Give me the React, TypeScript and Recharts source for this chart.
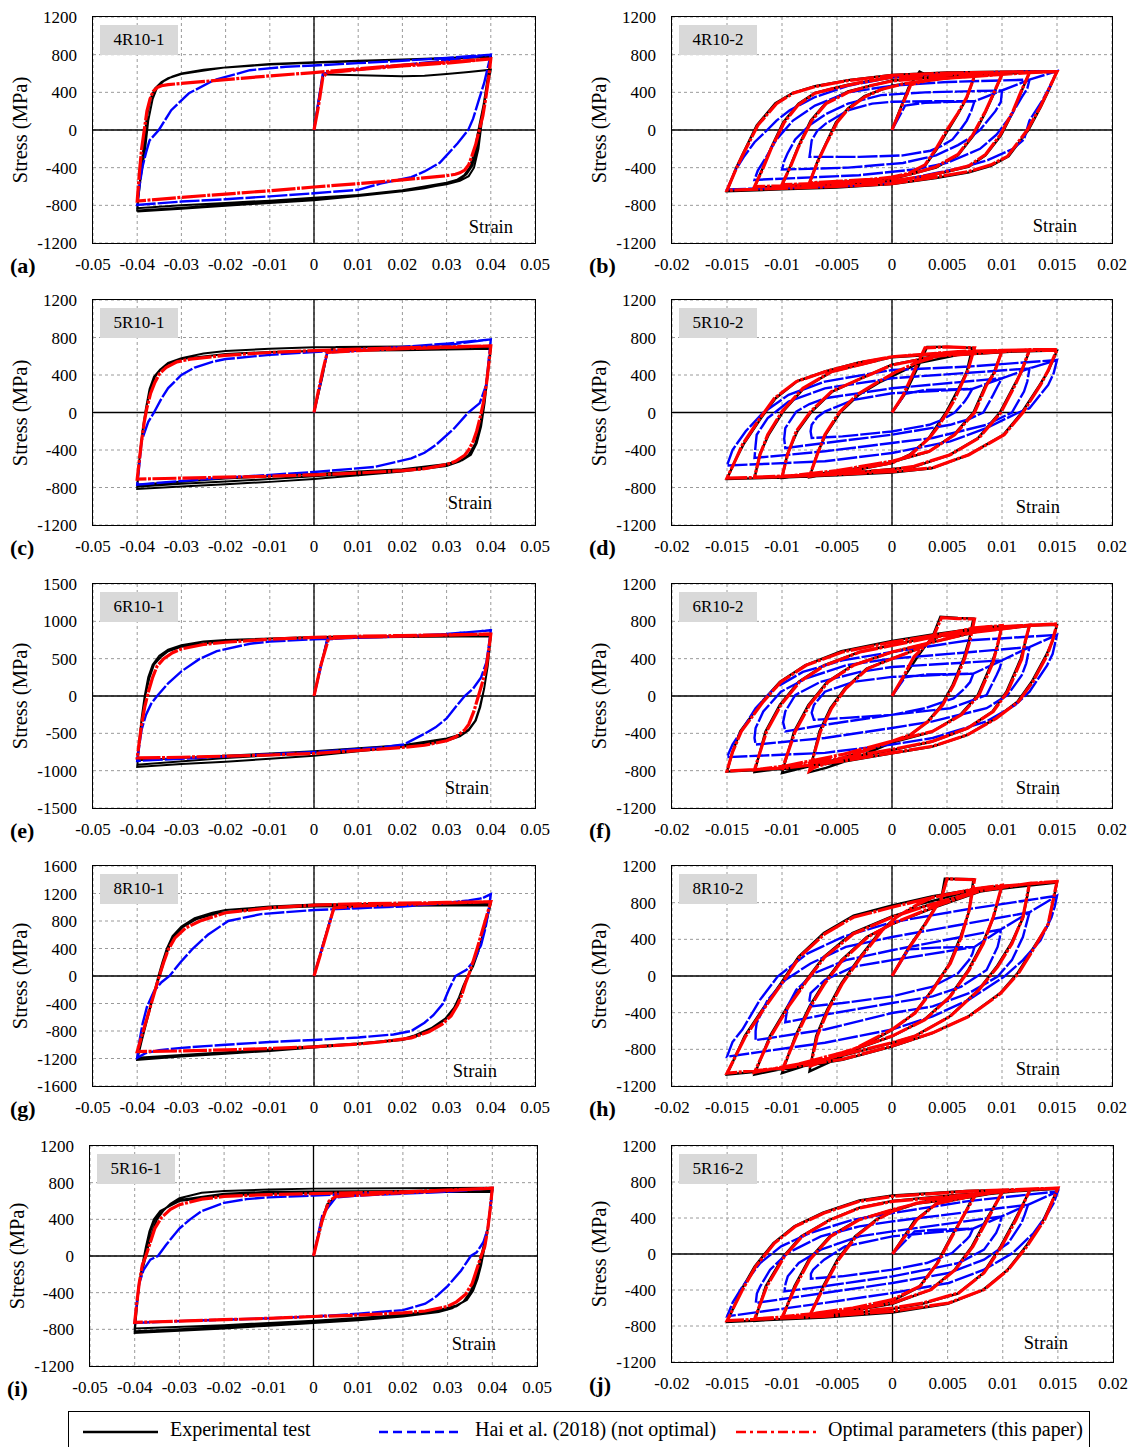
import { LineChart, Line, XAxis, YAxis, CartesianGrid, ReferenceLine } from "recharts";

type Pt = [number, number];

const FONT = '"Liberation Serif", "Times New Roman", Times, serif';

// axis ticks
const X_WIDE = [-0.05, -0.04, -0.03, -0.02, -0.01, 0, 0.01, 0.02, 0.03, 0.04, 0.05];
const X_NARROW = [-0.02, -0.015, -0.01, -0.005, 0, 0.005, 0.01, 0.015, 0.02];
const Y_1200 = [-1200, -800, -400, 0, 400, 800, 1200];
const Y_1500 = [-1500, -1000, -500, 0, 500, 1000, 1500];
const Y_1600 = [-1600, -1200, -800, -400, 0, 400, 800, 1200, 1600];

const SERIES_NAMES = ["Experimental test", "Hai et al. (2018) (not optimal)", "Optimal parameters (this paper)"];

// ---------- (a) 4R10-1 ----------
const A_EXP: Pt[] = [
  [0, 0], [0.0015, 450], [0.0022, 600], [0.003, 590], [0.008, 585], [0.015, 575], [0.02, 570], [0.025, 575], [0.03, 595], [0.035, 615], [0.04, 640],
  [0.0385, 300], [0.0372, 0], [0.0362, -250], [0.0352, -400], [0.034, -480], [0.032, -540], [0.03, -570], [0.025, -620], [0.02, -650], [0.01, -690], [0, -720], [-0.01, -750], [-0.02, -775], [-0.03, -800], [-0.04, -830],
  [-0.0392, -500], [-0.0382, -200], [-0.0375, 100], [-0.0365, 330], [-0.0355, 450], [-0.034, 520], [-0.032, 570], [-0.03, 600], [-0.025, 640], [-0.02, 665], [-0.01, 695], [0, 715], [0.01, 730], [0.02, 745], [0.03, 760], [0.04, 775],
  [0.0388, 400], [0.0378, 100], [0.0368, -200], [0.0358, -380], [0.0345, -470], [0.033, -520], [0.03, -560], [0.02, -640], [0.01, -690], [0, -735], [-0.01, -765], [-0.02, -795], [-0.03, -825], [-0.04, -855],
  [-0.0393, -500], [-0.0385, -150], [-0.0378, 150], [-0.037, 330], [-0.036, 440], [-0.0345, 510], [-0.033, 550], [-0.03, 595], [-0.02, 665], [-0.01, 700], [0, 720], [0.01, 735], [0.02, 750], [0.03, 765], [0.04, 785],
  [0.0389, 400], [0.038, 100], [0.0372, -200], [0.0362, -400], [0.035, -490], [0.033, -540], [0.03, -575], [0.02, -650], [0.01, -700], [0, -745], [-0.01, -775], [-0.02, -805], [-0.03, -835], [-0.04, -865],
];
const A_HAI: Pt[] = [
  [0, 0], [0.0015, 450], [0.002, 600], [0.005, 620], [0.01, 640], [0.02, 690], [0.03, 740], [0.04, 800],
  [0.0385, 500], [0.0373, 320], [0.036, 120], [0.0349, 0], [0.0325, -140], [0.03, -270], [0.0284, -350], [0.025, -440], [0.022, -500], [0.015, -570], [0.01, -635], [0, -672], [-0.01, -705], [-0.02, -735], [-0.03, -760], [-0.04, -795],
  [-0.0395, -600], [-0.0388, -390], [-0.038, -240], [-0.0372, -110], [-0.0351, 0], [-0.0323, 210], [-0.0283, 390], [-0.0226, 530], [-0.0145, 635], [-0.0064, 672], [0, 685], [0.01, 710], [0.02, 735], [0.03, 765], [0.04, 800],
];
const A_OPT: Pt[] = [
  [0, 0], [0.001, 250], [0.002, 560], [0.003, 610], [0.01, 640], [0.02, 680], [0.03, 710], [0.04, 755],
  [0.0395, 550], [0.0388, 320], [0.0382, 150], [0.0374, 0], [0.0366, -150], [0.0357, -280], [0.035, -370], [0.0341, -425], [0.033, -455], [0.032, -470], [0.03, -485], [0.02, -530], [0.01, -570], [0, -605], [-0.01, -645], [-0.02, -680], [-0.03, -715], [-0.04, -755],
  [-0.0395, -450], [-0.039, -200], [-0.0384, 0], [-0.0378, 200], [-0.0371, 330], [-0.0364, 410], [-0.0355, 450], [-0.0345, 470], [-0.033, 482], [-0.03, 495], [-0.02, 535], [-0.01, 575], [0, 610], [0.01, 650], [0.02, 690], [0.03, 720], [0.04, 755],
];

// ---------- (c) 5R10-1 ----------
const C_EXP: Pt[] = [
  [0, 0], [0.002, 400], [0.003, 650], [0.005, 700], [0.02, 705], [0.04, 700],
  [0.0392, 400], [0.0384, 100], [0.0375, -150], [0.0365, -330], [0.035, -450], [0.033, -520], [0.03, -570], [0.02, -630], [0.01, -670], [0, -710], [-0.01, -740], [-0.02, -765], [-0.03, -790], [-0.04, -815],
  [-0.0395, -500], [-0.0388, -200], [-0.038, 50], [-0.037, 250], [-0.036, 380], [-0.0345, 470], [-0.033, 530], [-0.03, 580], [-0.025, 630], [-0.02, 655], [-0.01, 680], [0, 695], [0.02, 700], [0.04, 690],
  [0.0393, 400], [0.0386, 100], [0.0378, -150], [0.0368, -330], [0.0355, -450], [0.0335, -510], [0.03, -560], [0.02, -620], [0.01, -650], [0, -680], [-0.01, -710], [-0.02, -735], [-0.03, -760], [-0.04, -790],
  [-0.0395, -500], [-0.0388, -200], [-0.038, 50], [-0.0372, 250], [-0.0362, 380], [-0.0348, 460], [-0.033, 520], [-0.03, 570], [-0.02, 625], [-0.01, 645], [0, 655], [0.02, 665], [0.04, 680],
  [0.0393, 400], [0.0386, 100], [0.0378, -150], [0.0368, -330], [0.0355, -450], [0.0335, -510], [0.03, -550], [0.02, -605], [0.01, -630], [0, -655], [-0.02, -705], [-0.04, -770],
];
const C_HAI: Pt[] = [
  [0, 0], [0.003, 640], [0.01, 660], [0.02, 690], [0.03, 720], [0.04, 780],
  [0.0395, 550], [0.039, 300], [0.0375, 100], [0.0349, 0], [0.0317, -170], [0.0276, -345], [0.025, -430], [0.022, -490], [0.0138, -580], [0, -635], [-0.01, -665], [-0.02, -695], [-0.03, -730], [-0.04, -770],
  [-0.0395, -550], [-0.039, -300], [-0.0375, -100], [-0.0362, 0], [-0.0345, 150], [-0.033, 260], [-0.03, 400], [-0.027, 480], [-0.023, 540], [-0.02, 570], [-0.01, 615], [0, 645], [0.01, 670], [0.02, 700], [0.03, 735], [0.04, 780],
];
const C_OPT: Pt[] = [
  [0, 0], [0.001, 230], [0.002, 450], [0.003, 640], [0.01, 660], [0.02, 680], [0.04, 710],
  [0.0395, 500], [0.039, 300], [0.0383, 100], [0.0376, -50], [0.0368, -200], [0.036, -310], [0.035, -400], [0.034, -460], [0.032, -520], [0.03, -555], [0.025, -600], [0.02, -620], [0.01, -645], [0, -665], [-0.01, -680], [-0.02, -690], [-0.03, -700], [-0.04, -710],
  [-0.0395, -500], [-0.039, -300], [-0.0384, -100], [-0.0378, 50], [-0.037, 200], [-0.036, 320], [-0.035, 410], [-0.0335, 480], [-0.031, 540], [-0.028, 570], [-0.02, 610], [-0.01, 640], [0, 660], [0.01, 675], [0.02, 690], [0.03, 700], [0.04, 710],
];

// ---------- (e) 6R10-1 ----------
const E_EXP: Pt[] = [
  [0, 0], [0.0015, 400], [0.003, 760], [0.005, 780], [0.02, 790], [0.04, 800],
  [0.0393, 400], [0.0385, 100], [0.0375, -150], [0.0365, -330], [0.035, -460], [0.033, -540], [0.03, -600], [0.025, -650], [0.02, -680], [0.01, -740], [0, -800], [-0.01, -840], [-0.02, -880], [-0.03, -910], [-0.04, -950],
  [-0.0395, -600], [-0.039, -300], [-0.0383, 0], [-0.0375, 250], [-0.0365, 420], [-0.035, 540], [-0.033, 620], [-0.03, 680], [-0.025, 730], [-0.02, 750], [-0.01, 770], [0, 785], [0.02, 790], [0.04, 800],
  [0.0393, 400], [0.0385, 100], [0.0375, -150], [0.0365, -330], [0.035, -450], [0.033, -520], [0.03, -570], [0.02, -660], [0.01, -700], [0, -740], [-0.01, -770], [-0.02, -800], [-0.03, -830], [-0.04, -860],
  [-0.0395, -600], [-0.039, -300], [-0.0382, 0], [-0.0372, 250], [-0.0362, 420], [-0.0345, 530], [-0.033, 600], [-0.03, 660], [-0.02, 740], [-0.01, 770], [0, 790], [0.02, 800], [0.04, 810],
  [0.0393, 400], [0.0385, 100], [0.0376, -150], [0.0366, -330], [0.035, -460], [0.033, -530], [0.03, -580], [0.02, -670], [0.01, -720], [0, -760], [-0.02, -830], [-0.04, -920],
];
const E_HAI: Pt[] = [
  [0, 0], [0.003, 760], [0.01, 780], [0.02, 800], [0.03, 830], [0.04, 880],
  [0.0395, 650], [0.039, 450], [0.0378, 250], [0.036, 100], [0.0341, 0], [0.032, -150], [0.03, -300], [0.0275, -420], [0.0252, -500], [0.0203, -650], [0.015, -690], [0.01, -710], [0, -750], [-0.01, -780], [-0.02, -810], [-0.03, -840], [-0.04, -870],
  [-0.0395, -650], [-0.039, -450], [-0.038, -250], [-0.0368, -100], [-0.0355, 0], [-0.033, 170], [-0.03, 330], [-0.0258, 500], [-0.022, 600], [-0.0145, 700], [-0.01, 730], [0, 760], [0.01, 780], [0.02, 800], [0.03, 830], [0.04, 880],
];
const E_OPT: Pt[] = [
  [0, 0], [0.0015, 400], [0.0033, 770], [0.01, 790], [0.02, 800], [0.04, 830],
  [0.0395, 600], [0.039, 400], [0.0382, 200], [0.0372, 0], [0.0362, -200], [0.035, -380], [0.034, -460], [0.032, -550], [0.03, -600], [0.025, -660], [0.02, -690], [0.01, -730], [0, -770], [-0.01, -790], [-0.02, -805], [-0.03, -820], [-0.04, -830],
  [-0.0395, -600], [-0.039, -380], [-0.0383, -150], [-0.0375, 50], [-0.0365, 250], [-0.0355, 400], [-0.034, 500], [-0.032, 580], [-0.03, 630], [-0.025, 690], [-0.02, 720], [-0.01, 760], [0, 785], [0.01, 800], [0.02, 810], [0.03, 820], [0.04, 830],
];

// ---------- (g) 8R10-1 ----------
const G_EXP: Pt[] = [
  [0, 0], [0.002, 450], [0.0045, 1000], [0.006, 1020], [0.02, 1030], [0.04, 1050],
  [0.039, 800], [0.038, 560], [0.037, 330], [0.036, 150], [0.035, 20], [0.034, -120], [0.033, -300], [0.032, -450], [0.03, -620], [0.027, -760], [0.023, -880], [0.02, -930], [0.01, -990], [0, -1040], [-0.01, -1090], [-0.02, -1130], [-0.03, -1170], [-0.04, -1220],
  [-0.039, -950], [-0.038, -700], [-0.037, -450], [-0.036, -200], [-0.0352, 0], [-0.0343, 200], [-0.0333, 400], [-0.032, 580], [-0.03, 720], [-0.027, 840], [-0.023, 920], [-0.02, 960], [-0.01, 1010], [0, 1040], [0.02, 1050], [0.04, 1060],
  [0.039, 790], [0.038, 550], [0.037, 320], [0.036, 140], [0.0348, 0], [0.0338, -140], [0.0328, -310], [0.0317, -460], [0.0297, -620], [0.0265, -760], [0.0225, -870], [0.02, -920], [0.01, -980], [0, -1020], [-0.01, -1070], [-0.02, -1110], [-0.03, -1150], [-0.04, -1190],
  [-0.039, -930], [-0.038, -680], [-0.037, -430], [-0.036, -190], [-0.0349, 0], [-0.034, 200], [-0.033, 390], [-0.0317, 570], [-0.0297, 710], [-0.0265, 830], [-0.022, 910], [-0.01, 990], [0, 1010], [0.02, 1020], [0.04, 1030],
];
const G_HAI: Pt[] = [
  [0, 0], [0.002, 450], [0.0045, 980], [0.01, 990], [0.02, 1010], [0.03, 1060], [0.035, 1100], [0.038, 1130], [0.04, 1190],
  [0.0395, 950], [0.0388, 700], [0.0378, 450], [0.0362, 220], [0.0345, 90], [0.032, 0], [0.0305, -200], [0.0292, -400], [0.027, -570], [0.025, -680], [0.022, -800], [0.018, -850], [0.01, -895], [0, -930], [-0.01, -960], [-0.02, -1000], [-0.03, -1045], [-0.035, -1080], [-0.038, -1120], [-0.04, -1190],
  [-0.0395, -950], [-0.0388, -700], [-0.0378, -450], [-0.0362, -220], [-0.0345, -90], [-0.0327, 0], [-0.0302, 200], [-0.0274, 400], [-0.024, 600], [-0.0194, 800], [-0.012, 900], [0, 960], [0.01, 985], [0.02, 1020], [0.03, 1060], [0.035, 1100], [0.038, 1130], [0.04, 1190],
];
const G_OPT: Pt[] = [
  [0, 0], [0.002, 430], [0.0045, 990], [0.01, 1020], [0.02, 1040], [0.04, 1080],
  [0.039, 860], [0.038, 640], [0.037, 420], [0.036, 210], [0.0352, 50], [0.0343, -100], [0.0334, -280], [0.0325, -420], [0.031, -580], [0.029, -700], [0.026, -810], [0.022, -900], [0.015, -960], [0.01, -990], [0, -1030], [-0.01, -1055], [-0.02, -1075], [-0.03, -1090], [-0.04, -1100],
  [-0.039, -880], [-0.038, -660], [-0.037, -440], [-0.036, -220], [-0.035, 0], [-0.034, 200], [-0.033, 380], [-0.0315, 550], [-0.029, 700], [-0.0258, 800], [-0.02, 920], [-0.01, 990], [0, 1030], [0.01, 1050], [0.02, 1060], [0.03, 1070], [0.04, 1080],
];

// ---------- (i) 5R16-1 ----------
const I_EXP: Pt[] = [
  [0, 0], [0.0015, 300], [0.003, 560], [0.005, 650], [0.01, 680], [0.02, 690], [0.03, 700], [0.04, 710],
  [0.0395, 500], [0.039, 300], [0.038, 100], [0.037, -100], [0.0362, -250], [0.035, -400], [0.0335, -500], [0.031, -570], [0.028, -610], [0.02, -660], [0.01, -700], [0, -730], [-0.01, -760], [-0.02, -790], [-0.03, -815], [-0.04, -840],
  [-0.0395, -550], [-0.039, -300], [-0.038, -100], [-0.037, 100], [-0.036, 270], [-0.035, 400], [-0.0335, 500], [-0.032, 570], [-0.03, 630], [-0.025, 690], [-0.02, 710], [-0.01, 725], [0, 735], [0.02, 740], [0.04, 745],
  [0.0395, 500], [0.039, 300], [0.0382, 100], [0.0373, -100], [0.0365, -250], [0.0355, -380], [0.034, -480], [0.032, -550], [0.028, -600], [0.02, -650], [0.01, -690], [0, -720], [-0.01, -750], [-0.02, -775], [-0.03, -800], [-0.04, -820],
  [-0.0395, -550], [-0.039, -300], [-0.0382, -100], [-0.0374, 100], [-0.0365, 270], [-0.0355, 400], [-0.034, 490], [-0.032, 560], [-0.03, 610], [-0.02, 680], [-0.01, 700], [0, 705], [0.02, 710], [0.04, 720],
  [0.0395, 500], [0.039, 300], [0.0383, 100], [0.0375, -100], [0.0367, -250], [0.0357, -380], [0.0343, -480], [0.032, -540], [0.028, -590], [0.02, -640], [0.01, -675], [0, -705], [-0.02, -755], [-0.04, -790],
  [-0.0395, -550], [-0.039, -300], [-0.0383, -100], [-0.0375, 100], [-0.0367, 270], [-0.0357, 400], [-0.0343, 490], [-0.032, 550], [-0.03, 600], [-0.02, 660], [-0.01, 680], [0, 690], [0.02, 695], [0.04, 700],
];
const I_HAI: Pt[] = [
  [0, 0], [0.002, 450], [0.005, 640], [0.01, 660], [0.02, 680], [0.03, 700], [0.04, 740],
  [0.0395, 500], [0.039, 300], [0.038, 150], [0.0365, 40], [0.0352, 0], [0.033, -160], [0.03, -330], [0.0275, -440], [0.025, -520], [0.02, -590], [0.01, -630], [0, -660], [-0.01, -680], [-0.02, -695], [-0.03, -710], [-0.04, -730],
  [-0.0395, -500], [-0.039, -300], [-0.038, -150], [-0.0365, -40], [-0.0348, 0], [-0.033, 120], [-0.03, 300], [-0.0276, 400], [-0.025, 490], [-0.02, 580], [-0.015, 620], [-0.01, 640], [0, 660], [0.01, 680], [0.02, 695], [0.03, 710], [0.04, 740],
];
const I_OPT: Pt[] = [
  [0, 0], [0.001, 200], [0.002, 400], [0.0035, 600], [0.005, 650], [0.02, 690], [0.04, 740],
  [0.0395, 500], [0.039, 300], [0.0383, 100], [0.0375, 0], [0.0365, -150], [0.0355, -300], [0.034, -420], [0.032, -500], [0.03, -550], [0.025, -600], [0.02, -620], [0.01, -645], [0, -660], [-0.01, -680], [-0.02, -695], [-0.03, -710], [-0.04, -725],
  [-0.0395, -500], [-0.039, -300], [-0.0383, -100], [-0.0375, 0], [-0.0365, 150], [-0.0355, 300], [-0.034, 420], [-0.032, 510], [-0.03, 560], [-0.025, 620], [-0.02, 650], [-0.01, 670], [0, 680], [0.02, 700], [0.04, 740],
];

// ---------- (b) 4R10-2 ----------
const B_EXP: Pt[] = [
  [0, 0], [0.0015, 450], [0.0025, 620], [0.003, 590], [0.005, 560], [0.0075, 575],
  [0.0068, 340], [0.006, 170], [0.0051, 0], [0.0041, -200], [0.003, -380], [0.0015, -470], [0, -510], [-0.003, -540], [-0.0075, -565],
  [-0.0068, -340], [-0.006, -140], [-0.0051, 80], [-0.004, 230], [-0.0025, 360], [0, 470], [0.004, 540], [0.0075, 575], [0.01, 595],
  [0.0092, 370], [0.0085, 190], [0.0074, -60], [0.006, -270], [0.004, -400], [0, -520], [-0.005, -565], [-0.01, -590],
  [-0.0092, -370], [-0.0085, -170], [-0.0074, 100], [-0.006, 290], [-0.004, 410], [0, 525], [0.006, 580], [0.0125, 610],
  [0.0117, 390], [0.011, 190], [0.0099, -60], [0.0085, -270], [0.007, -390], [0.004, -470], [0, -545], [-0.006, -585], [-0.0125, -610],
  [-0.0117, -390], [-0.011, -190], [-0.0099, 80], [-0.0085, 280], [-0.007, 395], [-0.004, 480], [0, 560], [0.006, 595], [0.015, 625],
  [0.0142, 410], [0.0135, 240], [0.0124, 0], [0.0106, -280], [0.009, -380], [0.007, -450], [0.004, -510], [0, -575], [-0.005, -610], [-0.01, -630], [-0.015, -650],
  [-0.0142, -410], [-0.0135, -240], [-0.0123, 50], [-0.0106, 285], [-0.009, 395], [-0.007, 465], [-0.004, 530], [0, 585], [0.005, 610], [0.01, 620], [0.015, 625],
];
const B_HAI: Pt[] = [
  [0, 0], [0.0012, 260], [0.003, 290], [0.0075, 305],
  [0.0072, 200], [0.0068, 100], [0.0062, 0], [0.0055, -100], [0.0045, -170], [0.0035, -220], [0.001, -270], [-0.003, -285], [-0.0075, -285],
  [-0.0074, -200], [-0.0073, -110], [-0.0068, -10], [-0.006, 70], [-0.004, 210], [-0.0018, 280], [0, 300], [0.004, 305], [0.0075, 305], [0.01, 420],
  [0.0099, 300], [0.0094, 200], [0.008, 0], [0.007, -90], [0.006, -160], [0.004, -270], [0.001, -350], [-0.004, -400], [-0.01, -420],
  [-0.0098, -330], [-0.0095, -250], [-0.0088, -100], [-0.0075, 50], [-0.006, 170], [-0.004, 280], [-0.001, 370], [0.003, 400], [0.01, 420], [0.0125, 535],
  [0.0123, 440], [0.0118, 350], [0.0108, 150], [0.0095, -50], [0.008, -200], [0.005, -350], [0.002, -420], [-0.003, -480], [-0.0125, -530],
  [-0.0122, -430], [-0.0115, -300], [-0.0105, -100], [-0.009, 100], [-0.007, 260], [-0.004, 400], [0, 470], [0.005, 510], [0.0125, 535], [0.015, 625],
  [0.0143, 450], [0.0136, 300], [0.0125, 100], [0.012, -100], [0.011, -200], [0.0087, -320], [0.006, -410], [0.0038, -460], [0, -560], [-0.005, -600], [-0.01, -615], [-0.015, -630],
  [-0.0142, -420], [-0.0135, -290], [-0.0125, -130], [-0.0116, -30], [-0.0105, 100], [-0.0093, 210], [-0.007, 350], [-0.004, 470], [0, 560], [0.005, 600], [0.01, 615], [0.015, 625],
];
const B_OPT: Pt[] = [
  [0, 0], [0.0017, 480], [0.003, 520], [0.005, 550], [0.0075, 570],
  [0.0068, 350], [0.006, 180], [0.005, 0], [0.004, -200], [0.003, -370], [0.0015, -460], [0, -500], [-0.002, -525], [-0.005, -545], [-0.0075, -560],
  [-0.0068, -350], [-0.006, -150], [-0.005, 80], [-0.004, 220], [-0.0025, 350], [-0.001, 430], [0.001, 490], [0.004, 540], [0.0075, 570], [0.01, 590],
  [0.0092, 380], [0.0085, 200], [0.0073, -60], [0.006, -260], [0.004, -390], [0.002, -460], [0, -510], [-0.003, -545], [-0.006, -565], [-0.01, -580],
  [-0.0092, -380], [-0.0085, -180], [-0.0073, 100], [-0.006, 280], [-0.004, 400], [-0.002, 470], [0, 520], [0.003, 555], [0.006, 575], [0.01, 590], [0.0125, 610],
  [0.0117, 400], [0.011, 200], [0.0098, -60], [0.0085, -260], [0.007, -380], [0.005, -440], [0.003, -490], [0, -540], [-0.004, -570], [-0.008, -590], [-0.0125, -600],
  [-0.0117, -400], [-0.011, -200], [-0.0098, 80], [-0.0085, 270], [-0.007, 390], [-0.005, 450], [-0.003, 500], [0, 560], [0.004, 585], [0.008, 600], [0.0125, 610], [0.015, 620],
  [0.0142, 420], [0.0135, 250], [0.0123, 0], [0.0105, -280], [0.009, -370], [0.007, -440], [0.004, -500], [0, -570], [-0.005, -600], [-0.01, -620], [-0.015, -640],
  [-0.0142, -420], [-0.0135, -250], [-0.0122, 50], [-0.0105, 280], [-0.009, 390], [-0.007, 460], [-0.004, 525], [0, 580], [0.005, 605], [0.01, 615], [0.015, 620],
];

// ---------- (d) 5R10-2 ----------
const D_EXP: Pt[] = [
  [0, 0], [0.0012, 200], [0.0025, 520], [0.0032, 700], [0.005, 700], [0.0073, 690],
  [0.0068, 440], [0.0062, 290], [0.0049, 0], [0.0033, -280], [0.0016, -450], [0, -540], [-0.004, -630], [-0.0075, -690],
  [-0.0068, -440], [-0.006, -230], [-0.0047, 0], [-0.003, 190], [-0.001, 330], [0.0025, 530], [0.0075, 650], [0.01, 655],
  [0.0092, 410], [0.0085, 290], [0.0074, 0], [0.0056, -240], [0.0033, -420], [0, -530], [-0.005, -630], [-0.01, -700],
  [-0.0095, -440], [-0.0086, -200], [-0.0073, 10], [-0.0054, 225], [-0.0027, 370], [0, 510], [0.004, 600], [0.0125, 660],
  [0.0118, 440], [0.0111, 290], [0.0098, 0], [0.0078, -275], [0.0052, -455], [0.002, -580], [-0.006, -670], [-0.0125, -700],
  [-0.012, -440], [-0.0112, -235], [-0.0099, 10], [-0.008, 260], [-0.0054, 440], [0, 590], [0.006, 640], [0.015, 660],
  [0.0142, 440], [0.0134, 290], [0.0118, 0], [0.0101, -240], [0.0069, -455], [0.0036, -595], [0, -640], [-0.005, -670], [-0.01, -695], [-0.015, -710],
  [-0.0142, -500], [-0.0135, -340], [-0.0119, -60], [-0.0106, 150], [-0.0086, 335], [-0.006, 440], [-0.003, 535], [0, 590], [0.007, 640], [0.015, 660],
];
const D_HAI: Pt[] = [
  [0, 0], [0.0012, 200], [0.003, 240], [0.0073, 251],
  [0.0069, 170], [0.0066, 117], [0.0057, 0], [0.0045, -80], [0.0034, -131], [0, -202], [-0.0045, -255], [-0.0073, -272],
  [-0.0074, -200], [-0.0073, -131], [-0.0068, -50], [-0.0061, 10], [-0.0035, 135], [0, 205], [0.0073, 251], [0.01, 365],
  [0.0096, 280], [0.0092, 188], [0.0083, 0], [0.007, -70], [0.0053, -131], [0, -237], [-0.0061, -325], [-0.0097, -380],
  [-0.0098, -280], [-0.0097, -166], [-0.0087, 10], [-0.0075, 90], [-0.0061, 152], [0, 258], [0.01, 365], [0.0125, 470],
  [0.0123, 330], [0.012, 223], [0.0109, 0], [0.0086, -131], [0.0037, -272], [0, -325], [-0.0061, -414], [-0.0125, -485],
  [-0.0124, -350], [-0.0123, -237], [-0.0113, -60], [-0.0094, 117], [-0.0061, 258], [0, 365], [0.0125, 470], [0.015, 560],
  [0.0147, 420], [0.0142, 294], [0.0125, 46], [0.0115, 0], [0.0086, -166], [0.0053, -308], [0, -432], [-0.0061, -520], [-0.015, -566],
  [-0.0145, -400], [-0.0133, -200], [-0.0117, 0], [-0.0094, 188], [-0.0061, 330], [0, 453], [0.007, 490], [0.015, 560],
];
const D_OPT: Pt[] = [
  [0, 0], [0.001, 180], [0.0024, 540], [0.003, 690], [0.005, 700], [0.0075, 690],
  [0.0069, 450], [0.0063, 294], [0.0056, 120], [0.005, 0], [0.0042, -150], [0.0034, -272], [0.0017, -450], [0, -538], [-0.0042, -626], [-0.0075, -680],
  [-0.0068, -450], [-0.0061, -237], [-0.0048, 0], [-0.0032, 188], [-0.0012, 330], [0.0004, 435], [0.0024, 540], [0.0045, 610], [0.0075, 655], [0.01, 660],
  [0.0093, 420], [0.0086, 294], [0.0075, 0], [0.0057, -237], [0.0034, -414], [0, -520], [-0.005, -620], [-0.01, -685],
  [-0.0095, -450], [-0.0087, -200], [-0.0074, 10], [-0.0055, 223], [-0.0028, 365], [0, 505], [0.004, 600], [0.0125, 670],
  [0.0118, 450], [0.0112, 294], [0.0099, 0], [0.0079, -272], [0.0053, -450], [0.002, -573], [0, -610], [-0.006, -660], [-0.0125, -690],
  [-0.012, -450], [-0.0113, -237], [-0.01, 10], [-0.0081, 258], [-0.0055, 435], [0, 595], [0.006, 650], [0.0125, 670], [0.015, 670],
  [0.0142, 450], [0.0135, 294], [0.0119, 0], [0.0102, -237], [0.007, -450], [0.0037, -590], [0, -630], [-0.005, -660], [-0.01, -685], [-0.015, -700],
  [-0.0142, -500], [-0.0136, -343], [-0.012, -60], [-0.0107, 150], [-0.0087, 330], [-0.0061, 435], [-0.003, 530], [0, 595], [0.007, 650], [0.015, 665],
];

// ---------- (f) 6R10-2 ----------
const F_EXP: Pt[] = [
  [0, 0], [0.0012, 220], [0.0025, 450], [0.0037, 640], [0.0044, 850], [0.006, 835], [0.0074, 830],
  [0.007, 600], [0.0065, 400], [0.0055, 117], [0.0045, -96], [0.0032, -280], [0.0016, -420], [0, -500], [-0.003, -650], [-0.006, -770], [-0.0075, -815],
  [-0.0066, -379], [-0.0056, -131], [-0.0043, 81], [-0.0023, 294], [0, 400], [0.0024, 506], [0.0043, 640], [0.0075, 720], [0.01, 750],
  [0.0096, 540], [0.0091, 365], [0.0078, 10], [0.0062, -202], [0.0036, -385], [0, -500], [-0.005, -680], [-0.01, -825],
  [-0.0089, -379], [-0.0076, -96], [-0.0059, 152], [-0.0036, 329], [0, 470], [0.0037, 577], [0.008, 695], [0.0125, 750],
  [0.0121, 570], [0.0117, 400], [0.0104, 46], [0.0091, -170], [0.0068, -350], [0.0036, -490], [0, -580], [-0.006, -720], [-0.0125, -815],
  [-0.0115, -379], [-0.0102, -96], [-0.0085, 152], [-0.0062, 329], [-0.003, 471], [0, 545], [0.0037, 640], [0.0125, 760], [0.015, 760],
  [0.0146, 590], [0.014, 435], [0.0127, 152], [0.0114, -60], [0.0094, -240], [0.0068, -420], [0.0036, -545], [0, -615], [-0.0045, -705], [-0.0094, -780], [-0.015, -810],
  [-0.0145, -600], [-0.0138, -379], [-0.0118, -60], [-0.0102, 152], [-0.0079, 329], [-0.0046, 480], [0, 590], [0.0037, 660], [0.0086, 740], [0.015, 765],
];
const F_HAI: Pt[] = [
  [0, 0], [0.0012, 200], [0.003, 230], [0.0074, 240],
  [0.0071, 150], [0.0066, 81], [0.0056, -25], [0.003, -131], [0, -202], [-0.0045, -237], [-0.0071, -255],
  [-0.0073, -180], [-0.0071, -96], [-0.0061, 46], [-0.0035, 152], [0, 205], [0.0074, 240], [0.01, 382],
  [0.0098, 300], [0.0095, 223], [0.0086, 10], [0.0053, -131], [0, -202], [-0.0061, -308], [-0.0097, -379],
  [-0.0099, -280], [-0.0097, -166], [-0.0088, 10], [-0.0065, 152], [-0.0029, 258], [0, 311], [0.01, 382], [0.0125, 524],
  [0.0122, 350], [0.0118, 223], [0.0105, 10], [0.0086, -131], [0.0037, -272], [0, -343], [-0.0061, -450], [-0.0124, -520],
  [-0.0125, -450], [-0.0124, -343], [-0.0117, -166], [-0.0101, 46], [-0.0078, 188], [-0.0042, 329], [0, 400], [0.0125, 524], [0.015, 655],
  [0.0146, 450], [0.0141, 329], [0.0125, 46], [0.0112, -96], [0.0086, -272], [0.0037, -450], [0, -520], [-0.0061, -609], [-0.015, -655],
  [-0.0145, -520], [-0.0137, -379], [-0.0124, -131], [-0.0107, 81], [-0.0081, 258], [-0.0045, 382], [0, 471], [0.0069, 595], [0.015, 655],
];
const F_OPT: Pt[] = [
  [0, 0], [0.001, 200], [0.002, 420], [0.0037, 620], [0.0045, 840], [0.006, 830], [0.0075, 825],
  [0.0071, 600], [0.0066, 400], [0.0056, 117], [0.0046, -96], [0.0033, -272], [0.0017, -414], [0, -485], [-0.0035, -626], [-0.0071, -768], [-0.0075, -800],
  [-0.0065, -379], [-0.0055, -131], [-0.0042, 81], [-0.0022, 294], [0, 400], [0.0024, 506], [0.0043, 648], [0.0075, 730], [0.01, 754],
  [0.0096, 550], [0.0092, 365], [0.0079, 10], [0.0063, -202], [0.0037, -379], [0, -485], [-0.0045, -626], [-0.0097, -750], [-0.01, -790],
  [-0.0088, -379], [-0.0075, -96], [-0.0058, 152], [-0.0035, 329], [0, 471], [0.0037, 577], [0.008, 700], [0.0125, 760],
  [0.0121, 580], [0.0118, 400], [0.0105, 46], [0.0092, -166], [0.0069, -343], [0.0037, -485], [0, -573], [-0.0061, -697], [-0.0125, -790],
  [-0.0114, -379], [-0.0101, -96], [-0.0084, 152], [-0.0061, 329], [-0.0029, 471], [0, 541], [0.0037, 630], [0.0125, 754], [0.015, 770],
  [0.0146, 600], [0.0141, 435], [0.0128, 152], [0.0115, -60], [0.0095, -237], [0.0069, -414], [0.0037, -538], [0, -609], [-0.0045, -697], [-0.0094, -768], [-0.015, -803],
  [-0.0145, -600], [-0.0137, -379], [-0.0117, -60], [-0.0101, 152], [-0.0078, 329], [-0.0045, 471], [0, 577], [0.0037, 648], [0.0086, 736], [0.015, 772],
];

// ---------- (h) 8R10-2 ----------
const H_EXP: Pt[] = [
  [0, 0], [0.0015, 310], [0.003, 570], [0.0045, 860], [0.0048, 1060], [0.0074, 1055],
  [0.007, 700], [0.0062, 420], [0.0052, 130], [0.0036, -160], [0.002, -410], [0, -590], [-0.0035, -820], [-0.0075, -1040],
  [-0.0069, -656], [-0.0059, -368], [-0.0046, -79], [-0.0029, 209], [-0.001, 497], [0.0004, 640], [0.0024, 780], [0.0075, 940], [0.01, 985],
  [0.0092, 630], [0.0082, 350], [0.0069, 60], [0.0052, -230], [0.0029, -480], [0, -660], [-0.0045, -850], [-0.01, -1060],
  [-0.0088, -656], [-0.0075, -332], [-0.0062, -79], [-0.0046, 173], [-0.0023, 425], [0, 565], [0.0037, 740], [0.008, 920], [0.0125, 1000],
  [0.0119, 630], [0.0108, 350], [0.0095, 100], [0.0078, -160], [0.0052, -445], [0.002, -660], [0, -730], [-0.0061, -920], [-0.0125, -1075],
  [-0.0111, -656], [-0.0095, -332], [-0.0078, -43], [-0.0062, 209], [-0.0036, 470], [0, 650], [0.0037, 790], [0.008, 925], [0.015, 1020],
  [0.0142, 560], [0.0127, 280], [0.0114, 29], [0.0098, -190], [0.0069, -445], [0.0036, -625], [0, -770], [-0.0045, -915], [-0.0094, -1010], [-0.015, -1075],
  [-0.0134, -656], [-0.0118, -368], [-0.0101, -79], [-0.0085, 209], [-0.0062, 470], [-0.0035, 660], [0, 770], [0.0037, 870], [0.0086, 970], [0.015, 1020],
];
const H_HAI: Pt[] = [
  [0, 0], [0.0015, 290], [0.004, 310], [0.0075, 317],
  [0.0073, 240], [0.007, 173], [0.006, 29], [0.0037, -115], [0, -223], [-0.0045, -295], [-0.0074, -331],
  [-0.0075, -260], [-0.0074, -187], [-0.0061, -43], [-0.0035, 101], [0, 173], [0.0075, 317], [0.0099, 508],
  [0.0098, 420], [0.0096, 317], [0.0086, 65], [0.0063, -115], [0.0037, -223], [0, -295], [-0.0061, -422], [-0.0097, -505],
  [-0.0096, -420], [-0.0095, -332], [-0.0087, -151], [-0.0071, 29], [-0.0042, 173], [0, 281], [0.0099, 508], [0.0125, 695],
  [0.0122, 560], [0.0119, 425], [0.0109, 173], [0.0096, -7], [0.007, -187], [0.0037, -332], [0, -404], [-0.0061, -584], [-0.0124, -700],
  [-0.0124, -600], [-0.0123, -512], [-0.0113, -260], [-0.0097, -43], [-0.0074, 137], [-0.0042, 317], [0, 425], [0.0125, 695], [0.015, 875],
  [0.0148, 760], [0.0145, 641], [0.0135, 389], [0.0119, 173], [0.0102, -7], [0.007, -259], [0.0037, -440], [0, -584], [-0.0061, -728], [-0.015, -880],
  [-0.0145, -720], [-0.0136, -584], [-0.012, -260], [-0.0104, -7], [-0.0077, 245], [-0.0045, 425], [0, 587], [0.007, 731], [0.015, 875],
];
const H_OPT: Pt[] = [
  [0, 0], [0.0015, 300], [0.003, 560], [0.0045, 850], [0.005, 1060], [0.0075, 1050],
  [0.007, 713], [0.0063, 425], [0.0053, 137], [0.0037, -151], [0.0021, -404], [0, -584], [-0.0035, -800], [-0.0074, -980],
  [-0.0068, -656], [-0.0058, -368], [-0.0045, -79], [-0.0028, 209], [-0.0009, 497], [0.0004, 641], [0.0024, 786], [0.0037, 858], [0.0075, 950], [0.01, 990],
  [0.0092, 641], [0.0083, 353], [0.007, 65], [0.0053, -223], [0.003, -476], [0, -656], [-0.0045, -836], [-0.0097, -998], [-0.01, -1030],
  [-0.0087, -656], [-0.0074, -332], [-0.0061, -79], [-0.0045, 173], [-0.0022, 425], [0, 569], [0.0037, 749], [0.008, 930], [0.0125, 1010],
  [0.0119, 641], [0.0109, 353], [0.0096, 101], [0.0079, -151], [0.0053, -440], [0.0021, -656], [0, -728], [-0.0061, -908], [-0.0125, -1050],
  [-0.011, -656], [-0.0094, -332], [-0.0077, -43], [-0.0061, 209], [-0.0035, 461], [0, 641], [0.0037, 786], [0.008, 930], [0.0125, 1012], [0.015, 1030],
  [0.0142, 569], [0.0128, 281], [0.0115, 29], [0.0099, -187], [0.007, -440], [0.0037, -620], [0, -764], [-0.0045, -908], [-0.0094, -998], [-0.015, -1060],
  [-0.0133, -656], [-0.0117, -368], [-0.01, -79], [-0.0084, 209], [-0.0061, 461], [-0.0035, 641], [0, 750], [0.0037, 858], [0.0086, 966], [0.015, 1030],
];

// ---------- (j) 5R16-2 ----------
const J_EXP: Pt[] = [
  [0, 0], [0.002, 370], [0.004, 560], [0.0073, 640],
  [0.0064, 410], [0.0053, 190], [0.004, -110], [0.0024, -370], [0, -520], [-0.0036, -620], [-0.0075, -690],
  [-0.0063, -359], [-0.005, -63], [-0.0034, 196], [-0.0015, 381], [0, 470], [0.0022, 560], [0.007, 630], [0.01, 690],
  [0.0085, 381], [0.0072, 85], [0.0056, -180], [0.0034, -400], [0, -555], [-0.0046, -650], [-0.01, -720],
  [-0.0089, -359], [-0.0076, -63], [-0.0057, 196], [-0.0031, 381], [0, 490], [0.0035, 600], [0.0125, 715],
  [0.0111, 381], [0.0098, 85], [0.0082, -215], [0.0059, -440], [0.0027, -555], [0, -610], [-0.0062, -690], [-0.0125, -745],
  [-0.0115, -359], [-0.0099, -26], [-0.0083, 196], [-0.0057, 381], [-0.003, 515], [0, 590], [0.006, 660], [0.015, 725],
  [0.0137, 381], [0.0121, 85], [0.0104, -180], [0.0082, -400], [0.005, -555], [0, -650], [-0.0062, -705], [-0.015, -755],
  [-0.0137, -396], [-0.0125, -137], [-0.0108, 122], [-0.0089, 307], [-0.0063, 460], [-0.003, 595], [0, 650], [0.0067, 700], [0.015, 725],
];
const J_HAI: Pt[] = [
  [0, 0], [0.002, 250], [0.004, 270], [0.0073, 281],
  [0.007, 200], [0.0067, 159], [0.0054, 11], [0.0031, -100], [0, -174], [-0.0046, -248], [-0.0074, -274],
  [-0.0074, -220], [-0.0072, -174], [-0.0062, -63], [-0.0043, 85], [0, 196], [0.0073, 281], [0.0099, 418],
  [0.0097, 320], [0.0094, 233], [0.0083, 48], [0.006, -100], [0.0031, -174], [0, -248], [-0.0062, -359], [-0.0098, -415],
  [-0.0097, -330], [-0.0095, -248], [-0.0085, -100], [-0.0065, 48], [-0.003, 196], [0, 252], [0.0099, 418], [0.0123, 548],
  [0.012, 440], [0.0117, 344], [0.0105, 122], [0.0083, -63], [0.0051, -211], [0, -322], [-0.0062, -433], [-0.0124, -544],
  [-0.0123, -440], [-0.012, -359], [-0.0111, -174], [-0.0095, 11], [-0.0065, 196], [-0.003, 307], [0, 363], [0.0123, 548], [0.015, 696],
  [0.0146, 560], [0.0141, 455], [0.0128, 233], [0.0109, 11], [0.0083, -174], [0.0051, -322], [0, -433], [-0.0062, -544], [-0.015, -692],
  [-0.0145, -540], [-0.0136, -359], [-0.012, -100], [-0.0101, 85], [-0.0075, 233], [-0.0036, 381], [0, 455], [0.0067, 585], [0.015, 696],
];
const J_OPT: Pt[] = [
  [0, 0], [0.0022, 380], [0.004, 560], [0.0075, 650],
  [0.0064, 418], [0.0054, 196], [0.0041, -100], [0.0025, -359], [0, -507], [-0.0036, -600], [-0.0069, -655], [-0.0075, -680],
  [-0.0062, -359], [-0.0049, -63], [-0.0033, 196], [-0.0014, 381], [0, 474], [0.0022, 566], [0.007, 640], [0.01, 700],
  [0.0086, 381], [0.0073, 85], [0.0057, -174], [0.0035, -396], [0, -544], [-0.0046, -637], [-0.0097, -692], [-0.01, -700],
  [-0.0088, -359], [-0.0075, -63], [-0.0056, 196], [-0.003, 381], [0, 492], [0.0035, 603], [0.0097, 696], [0.0125, 720],
  [0.0112, 381], [0.0099, 85], [0.0083, -211], [0.006, -433], [0.0028, -544], [0, -600], [-0.0062, -674], [-0.0125, -720],
  [-0.0114, -359], [-0.0098, -26], [-0.0082, 196], [-0.0056, 381], [-0.003, 511], [0, 585], [0.0122, 715], [0.015, 733],
  [0.0138, 381], [0.0122, 85], [0.0105, -174], [0.0083, -396], [0.0051, -544], [0, -637], [-0.0062, -692], [-0.015, -740],
  [-0.0136, -396], [-0.0124, -137], [-0.0107, 122], [-0.0088, 307], [-0.0062, 455], [-0.003, 585], [0, 640], [0.0067, 696], [0.015, 733],
];

const toRows = (pts: Pt[]) => pts.map(([x, y]) => ({ x, y }));

type PanelProps = {
  left: number;
  top: number;
  w: number;
  h: number;
  xTicks: number[];
  yTicks: number[];
  exp: Pt[];
  hai: Pt[];
  opt: Pt[];
  tag: string;
  letter: string;
  strainRight: number;
  strainY: number;
  expWidth: number;
};

const ML = 75;
const MR = 30;

function Panel(p: PanelProps) {
  const chartW = ML + p.w + MR;
  const chartH = 10 + p.h + 40;
  const tickStyle = { fill: "#000", fontSize: 17, fontFamily: FONT };
  return (
    <>
      <div style={{ position: "absolute", left: p.left - ML, top: p.top - 10 }}>
        <LineChart width={chartW} height={chartH} margin={{ top: 10, right: MR, bottom: 0, left: 0 }}>
          <CartesianGrid stroke="#9a9a9a" strokeDasharray="3 3" />
          <XAxis
            dataKey="x"
            type="number"
            domain={[p.xTicks[0], p.xTicks[p.xTicks.length - 1]]}
            ticks={p.xTicks}
            interval={0}
            allowDataOverflow
            height={40}
            tickSize={0}
            tickMargin={15}
            axisLine={false}
            tick={tickStyle}
          />
          <YAxis
            type="number"
            domain={[p.yTicks[0], p.yTicks[p.yTicks.length - 1]]}
            ticks={p.yTicks}
            interval={0}
            allowDataOverflow
            width={ML}
            tickSize={0}
            tickMargin={16}
            axisLine={false}
            tick={tickStyle}
          />
          <ReferenceLine x={0} stroke="#000" strokeWidth={1.3} />
          <ReferenceLine y={0} stroke="#000" strokeWidth={1.3} />
          <Line
            data={toRows(p.exp)}
            dataKey="y"
            name={SERIES_NAMES[0]}
            type="linear"
            stroke="#000"
            strokeWidth={p.expWidth}
            dot={false}
            isAnimationActive={false}
          />
          <Line
            data={toRows(p.hai)}
            dataKey="y"
            name={SERIES_NAMES[1]}
            type="linear"
            stroke="#0000ff"
            strokeWidth={2.4}
            strokeDasharray="20 2"
            dot={false}
            isAnimationActive={false}
          />
          <Line
            data={toRows(p.opt)}
            dataKey="y"
            name={SERIES_NAMES[2]}
            type="linear"
            stroke="#ff0000"
            strokeWidth={3.2}
            strokeDasharray="24 1.5 3 1.5"
            dot={false}
            isAnimationActive={false}
          />
        </LineChart>
      </div>
      {/* plot frame */}
      <div
        style={{
          position: "absolute",
          left: p.left - 1,
          top: p.top - 1,
          width: p.w + 2,
          height: p.h + 2,
          border: "1.5px solid #000",
          boxSizing: "border-box",
          pointerEvents: "none",
        }}
      />
      <div
        style={{
          position: "absolute",
          left: p.left + 7,
          top: p.top + 8,
          width: 78,
          height: 30,
          background: "#d9d9d9",
          fontSize: 17,
          lineHeight: "30px",
          textAlign: "center",
        }}
      >
        {p.tag}
      </div>
      <div
        style={{
          position: "absolute",
          left: p.strainRight - 70,
          width: 70,
          top: p.strainY - 12,
          textAlign: "right",
          fontSize: 18.5,
          lineHeight: "24px",
        }}
      >
        Strain
      </div>
      <div
        style={{
          position: "absolute",
          left: p.left - 73,
          top: p.top + p.h / 2,
          transform: "translate(-50%, -50%) rotate(-90deg)",
          fontSize: 20.5,
          whiteSpace: "nowrap",
        }}
      >
        Stress (MPa)
      </div>
      <div
        style={{
          position: "absolute",
          left: p.left - 83,
          top: p.top + p.h + 10,
          fontSize: 22,
          fontWeight: "bold",
          lineHeight: "26px",
        }}
      >
        {p.letter}
      </div>
    </>
  );
}

const LX = 93;
const RX = 672;
const LW = 442;
const RW = 440;

export default function App() {
  return (
    <div
      style={{
        position: "absolute",
        left: 0,
        top: 0,
        width: 1139,
        height: 1447,
        background: "#fff",
        overflow: "hidden",
        fontFamily: FONT,
        color: "#000",
      }}
    >
      <style>{`.recharts-text, svg text { font-family: ${FONT}; }`}</style>
      <Panel left={LX} top={17} w={LW} h={226} xTicks={X_WIDE} yTicks={Y_1200} exp={A_EXP} hai={A_HAI} opt={A_OPT} tag="4R10-1" letter="(a)" strainRight={513} strainY={227} expWidth={2} />
      <Panel left={RX} top={17} w={RW} h={226} xTicks={X_NARROW} yTicks={Y_1200} exp={B_EXP} hai={B_HAI} opt={B_OPT} tag="4R10-2" letter="(b)" strainRight={1077} strainY={226} expWidth={2.4} />
      <Panel left={LX} top={300} w={LW} h={225} xTicks={X_WIDE} yTicks={Y_1200} exp={C_EXP} hai={C_HAI} opt={C_OPT} tag="5R10-1" letter="(c)" strainRight={492} strainY={503} expWidth={2} />
      <Panel left={RX} top={300} w={RW} h={225} xTicks={X_NARROW} yTicks={Y_1200} exp={D_EXP} hai={D_HAI} opt={D_OPT} tag="5R10-2" letter="(d)" strainRight={1060} strainY={507} expWidth={2.4} />
      <Panel left={LX} top={584} w={LW} h={224} xTicks={X_WIDE} yTicks={Y_1500} exp={E_EXP} hai={E_HAI} opt={E_OPT} tag="6R10-1" letter="(e)" strainRight={489} strainY={788} expWidth={2} />
      <Panel left={RX} top={584} w={RW} h={224} xTicks={X_NARROW} yTicks={Y_1200} exp={F_EXP} hai={F_HAI} opt={F_OPT} tag="6R10-2" letter="(f)" strainRight={1060} strainY={788} expWidth={2.4} />
      <Panel left={LX} top={866} w={LW} h={220} xTicks={X_WIDE} yTicks={Y_1600} exp={G_EXP} hai={G_HAI} opt={G_OPT} tag="8R10-1" letter="(g)" strainRight={497} strainY={1071} expWidth={2} />
      <Panel left={RX} top={866} w={RW} h={220} xTicks={X_NARROW} yTicks={Y_1200} exp={H_EXP} hai={H_HAI} opt={H_OPT} tag="8R10-2" letter="(h)" strainRight={1060} strainY={1069} expWidth={2.4} />
      <Panel left={LX - 3} top={1146} w={LW + 5} h={220} xTicks={X_WIDE} yTicks={Y_1200} exp={I_EXP} hai={I_HAI} opt={I_OPT} tag="5R16-1" letter="(i)" strainRight={496} strainY={1344} expWidth={2} />
      <Panel left={RX} top={1146} w={RW + 1} h={216} xTicks={X_NARROW} yTicks={Y_1200} exp={J_EXP} hai={J_HAI} opt={J_OPT} tag="5R16-2" letter="(j)" strainRight={1068} strainY={1343} expWidth={2.4} />

      {/* legend */}
      <div
        style={{
          position: "absolute",
          left: 68,
          top: 1411,
          width: 1022,
          height: 40,
          border: "1px solid #000",
          boxSizing: "border-box",
          fontSize: 20,
        }}
      >
        <svg width={1020} height={38} style={{ position: "absolute", left: 0, top: 0 }}>
          <line x1={14} x2={89} y1={20} y2={20} stroke="#000" strokeWidth={2.5} />
          <line x1={310} x2={390} y1={20} y2={20} stroke="#0000ff" strokeWidth={2.5} strokeDasharray="9 5" />
          <line x1={667} x2={747} y1={20} y2={20} stroke="#ff0000" strokeWidth={2.5} strokeDasharray="10 4 3 4" />
        </svg>
        <span style={{ position: "absolute", left: 101, top: 6 }}>{SERIES_NAMES[0]}</span>
        <span style={{ position: "absolute", left: 406, top: 6 }}>{SERIES_NAMES[1]}</span>
        <span style={{ position: "absolute", left: 759, top: 6 }}>{SERIES_NAMES[2]}</span>
      </div>
    </div>
  );
}
